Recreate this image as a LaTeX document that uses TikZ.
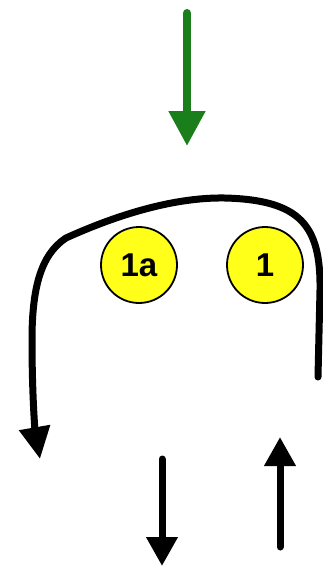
\documentclass[tikz,border=0pt]{standalone}
\usepackage{fontspec}
\setmainfont{Liberation Sans}
\usepackage{xcolor}
\definecolor{cFlow}{HTML}{1A7F1A}
\definecolor{cInk}{HTML}{000000}
\definecolor{cMark}{HTML}{FFFF1A}
\usetikzlibrary{arrows.meta}
\tikzset{
  node-mark/.style={draw=cInk,line width=1.8pt,circle,fill=cMark,minimum size=76pt,
    inner sep=0pt,font=\fontsize{33}{33}\selectfont\bfseries},
  arrow-in/.style={-{Triangle[length=35pt,width=35pt]},line width=8pt,
    line cap=round,draw=cFlow},
  arrow/.style={-{Triangle[length=29pt,width=30pt]},line width=7pt,
    line cap=round,draw=cInk},
  arrow-loop/.style={-{Triangle[length=32pt,width=30pt]},line width=7pt,
    line cap=round,draw=cInk},
}
\begin{document}
\begin{tikzpicture}[x=1pt,y=-1pt]
  \useasboundingbox (0,0) rectangle (323,568);
  \node[node-mark] (m1a) at (139,265) {1a};
  \node[node-mark] (m1)  at (265,265) {1};
  % inflow from the top
  \coordinate (in-a) at (187,13);
  \coordinate (in-b) at (187,146);
  \draw[arrow-in] (in-a) -- (in-b);
  % loop round the top
  \coordinate (loop-a) at (318,377);
  \coordinate (loop-b) at (40,459);
  \draw[arrow-loop] (loop-a) -- (320,290)
    .. controls (321,225) and (300,200) .. (225,198)
    .. controls (170,197) and (110,218) .. (66,238)
    .. controls (40,255) and (32,290) .. (32,340)
    .. controls (32,395) and (35,430) .. (loop-b);
  % pair at the bottom
  \coordinate (out-a) at (162,459);
  \coordinate (out-b) at (162,566);
  \coordinate (ret-a) at (280,547);
  \coordinate (ret-b) at (280,437);
  \draw[arrow] (out-a) -- (out-b);
  \draw[arrow] (ret-a) -- (ret-b);
\end{tikzpicture}
\end{document}
